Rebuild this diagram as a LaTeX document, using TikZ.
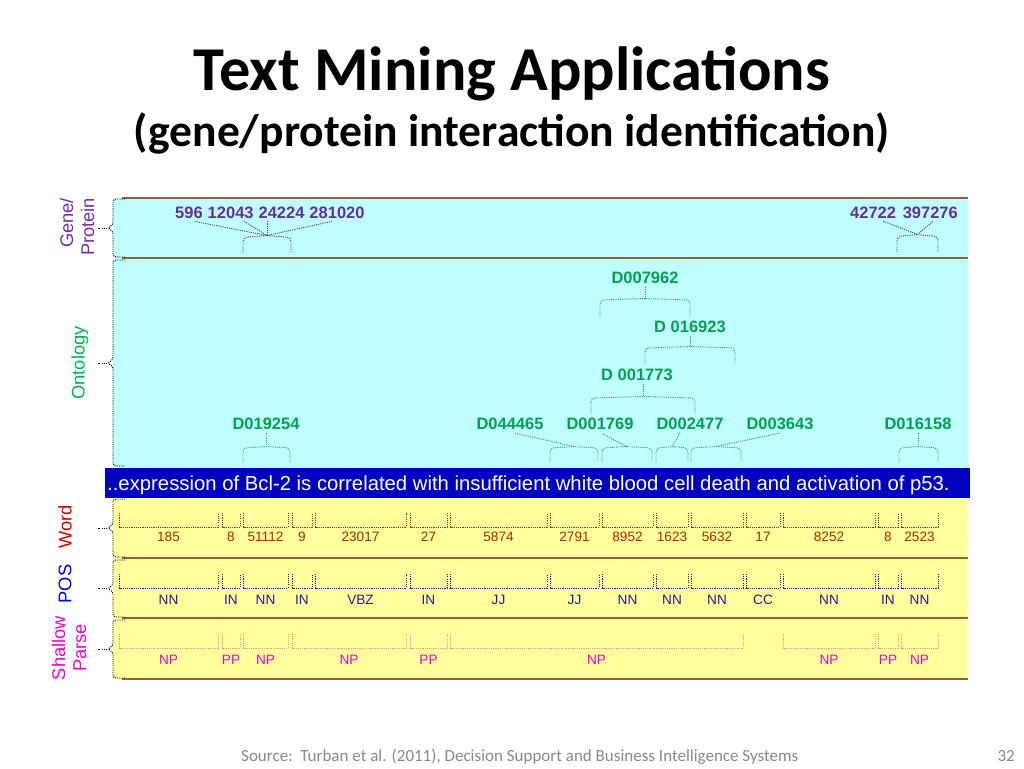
\documentclass[tikz,border=0pt]{standalone}
\usepackage{fontspec}
\setmainfont{Liberation Sans}
\newfontfamily\titlefont{Carlito}
\usetikzlibrary{calc}
\definecolor{cyanband}{RGB}{192,255,255}
\definecolor{yelband}{RGB}{255,255,155}
\definecolor{bandbrown}{RGB}{150,95,60}
\definecolor{barblue}{RGB}{0,0,190}
\definecolor{genecol}{RGB}{96,48,150}
\definecolor{genelab}{RGB}{112,48,160}
\definecolor{genedots}{RGB}{60,60,140}
\definecolor{ontcol}{RGB}{0,160,80}
\definecolor{ontlab}{RGB}{0,176,80}
\definecolor{ontdots}{RGB}{50,150,130}
\definecolor{wordlab}{RGB}{200,0,0}
\definecolor{wordcol}{RGB}{170,40,0}
\definecolor{poslab}{RGB}{0,0,220}
\definecolor{poscol}{RGB}{30,30,150}
\definecolor{shlab}{RGB}{235,0,200}
\definecolor{shdots}{RGB}{230,150,150}
\definecolor{footgray}{RGB}{137,137,137}
\newcommand{\leftbrace}[3]{%
  \coordinate (#3) at (107,{(#1+#2)/2});
  \draw[bandbrace] (125,#1) -- (113,#1) -- (113,{(#1+#2)/2-3}) -- (#3) -- (113,{(#1+#2)/2+3}) -- (113,#2) -- (125,#2);
  \draw[dots,draw=black] (#3) -- ++(-9,0);
}
\newcommand{\upbrace}[5]{%
  \coordinate (#1) at ({(#2+#3)/2},{#4-1.5});
  \draw[oline, rounded corners=4pt] (#2,#5) -- (#2,#4) -- (#1) -- (#3,#4) -- (#3,#5);
}
\begin{document}
\begin{tikzpicture}[x=1pt,y=-1pt,
  dots/.style={line width=0.9pt, dash pattern=on 1.1pt off 1.1pt},
  bandbrace/.style={dots, draw=black, rounded corners=3pt},
  bandline/.style={draw=bandbrown, line width=1.3pt},
  gene/.style={text=genecol, font=\bfseries\fontsize{16.5}{19}\selectfont, inner sep=0pt},
  onto/.style={text=ontcol, font=\bfseries\fontsize{16.5}{19}\selectfont, inner sep=0pt},
  gline/.style={dots, draw=genedots},
  oline/.style={dots, draw=ontdots},
  wseg/.style={dots, draw=wordcol},
  wlab/.style={text=wordcol, font=\fontsize{13.6}{16}\selectfont, inner sep=0pt},
  pseg/.style={dots, draw=poscol},
  plab/.style={text=poscol, font=\fontsize{13.6}{16}\selectfont, inner sep=0pt},
  sseg/.style={dots, draw=shdots},
  slab/.style={text=shlab, font=\fontsize{13.6}{16}\selectfont, inner sep=0pt},
  sidelab/.style={rotate=90, font=\fontsize{18.3}{21}\selectfont, inner sep=0pt}
]
\useasboundingbox (0,0) rectangle (1024,768);
\fill[white] (0,0) rectangle (1024,768);

% title
\node[anchor=base, font=\titlefont\bfseries\fontsize{62.4}{70}\selectfont, inner sep=0pt] (title) at (512,90) {Text Mining Applications};
\node[anchor=base, font=\titlefont\bfseries\fontsize{45.6}{52}\selectfont, inner sep=0pt] (subtitle) at (512,146) {(gene/protein interaction identification)};

% bands
\fill[cyanband] (968,198) [rounded corners=4pt] -- (113,198) -- (113,258) [sharp corners] -- (968,258) -- cycle;
\fill[cyanband] (968,258) [rounded corners=4pt] -- (113,258) -- (113,468) [sharp corners] -- (968,468) -- cycle;
\fill[yelband] (968,499) [rounded corners=4pt] -- (113,499) -- (113,558) [sharp corners] -- (968,558) -- cycle;
\fill[yelband] (968,559) [rounded corners=4pt] -- (113,559) -- (113,618) [sharp corners] -- (968,618) -- cycle;
\fill[yelband] (968,619) [rounded corners=4pt] -- (113,619) -- (113,679) [sharp corners] -- (968,679) -- cycle;
\draw[bandline] (122,198) -- (968,198);
\draw[bandline] (122,258) -- (968,258);
\draw[bandline] (122,558) -- (968,558);
\draw[bandline] (122,618) -- (968,618);
\draw[bandline] (122,679) -- (968,679);

% left braces
\leftbrace{199}{257}{tgene}
\leftbrace{260}{466}{tonto}
\leftbrace{499}{557}{tword}
\leftbrace{560}{617}{tpos}
\leftbrace{620}{678}{tshal}

% side labels
\node[sidelab, text=genelab, align=right] (lgene) at (77,227) {Gene/\\Protein};
\node[sidelab, text=ontlab] (lonto) at (80,363) {Ontology};
\node[sidelab, text=wordlab] (lword) at (65,527) {Word};
\node[sidelab, text=poslab] (lpos) at (65,584) {POS};
\node[sidelab, text=shlab, align=center] (lshal) at (69,648) {Shallow\\Parse};

% sentence bar
\node[fill=barblue, anchor=north west, minimum height=30pt, minimum width=865pt, inner sep=0pt] (bar) at (105,468) {};
\node[anchor=base west, inner sep=0pt, text=white, font=\fontsize{20.3}{22}\selectfont] (sentence) at ([xshift=2pt,yshift=-7.5pt]bar.west) {..expression of Bcl-2 is correlated with insufficient white blood cell death and activation of p53.};

% gene / protein
\node[gene, anchor=base west] (g1) at (175,218) {596};
\node[gene, anchor=base west] (g2) at ([xshift=4.6pt]g1.base east) {12043};
\node[gene, anchor=base west] (g3) at ([xshift=4.6pt]g2.base east) {24224};
\node[gene, anchor=base west] (g4) at ([xshift=4.6pt]g3.base east) {281020};
\node[gene, anchor=base west] (g5) at (850,218) {42722};
\node[gene, anchor=base east] (g6) at (958,218) {397276};
\coordinate (gb1) at (267,235.5);
\draw[gline, rounded corners=4pt] (243,252) -- (243,237.5) -- (gb1) -- (291,237.5) -- (291,252);
\coordinate (gb2) at (917.5,234.5);
\draw[gline, rounded corners=4pt] (897,252) -- (897,236.5) -- (gb2) -- (938,236.5) -- (938,252);
\draw[gline] ($(g1.south west)!0.7!(g1.south east)+(0,3)$) -- (gb1);
\draw[gline] ($(g2.south west)!0.79!(g2.south east)+(0,3)$) -- (gb1);
\draw[gline] ($(gb1 |- g3.south)+(0,3)$) -- (gb1);
\draw[gline] ($(g4.south west)!0.41!(g4.south east)+(0,3)$) -- (gb1);
\draw[gline] ($(g5.south west)!0.72!(g5.south east)+(0,3)$) -- (gb2);
\draw[gline] ($(g6.south west)!0.55!(g6.south east)+(0,3)$) -- (gb2);

% ontology
\node[onto] (o1) at (645,278) {D007962};
\node[onto] (o2) at (690,327) {D 016923};
\node[onto] (o3) at (637,375) {D 001773};
\node[onto] (o4) at (266,424) {D019254};
\node[onto] (o5) at (510,424) {D044465};
\node[onto] (o6) at (600,424) {D001769};
\node[onto] (o7) at (690,424) {D002477};
\node[onto] (o8) at (780,424) {D003643};
\node[onto] (o9) at (918,424) {D016158};
\upbrace{b1}{600}{690}{300}{317}
\upbrace{b2}{645}{735}{348}{363}
\upbrace{b3}{591}{695}{398}{413}
\upbrace{b4}{243}{290}{448}{462}
\upbrace{b5}{550}{598}{448}{462}
\upbrace{b6}{602}{652}{448}{462}
\upbrace{b7}{656}{688}{448}{462}
\upbrace{b8}{691}{741}{448}{462}
\upbrace{b9}{899}{938}{448}{462}
\draw[oline] ($(b1 |- o1.south)+(0,3)$) -- (b1);
\draw[oline] ($(b2 |- o2.south)+(0,3)$) -- (b2);
\draw[oline] ($(b3 |- o3.south)+(0,3)$) -- (b3);
\draw[oline] ($(b4 |- o4.south)+(0,3)$) -- (b4);
\draw[oline] ($(o5.south)+(5,3)$) -- (b5);
\draw[oline] ($(o6.south)+(3,4)$) -- (b6);
\draw[oline] ($(o7.south)+(-10,3)$) -- (b7);
\draw[oline] ($(o8.south)+(0,3)$) -- (b8);
\draw[oline] ($(b9 |- o9.south)+(0,3)$) -- (b9);

% word row
\foreach \a/\b/\t [count=\i] in {119/218/185, 222/240/8, 243/288/51112, 292/312/9, 315/406/23017, 410/447/27, 450/547/5874, 550/599/2791, 602/653/8952, 656/688/1623, 691/743/5632, 746/780/17, 783/875/8252, 878/898/8, 901/938/2523}{
  \draw[wseg] (\a,513) -- (\a,527) -- (\b,527) -- (\b,513);
  \node[wlab] (w\i) at ({(\a+\b)/2},537) {\t};
}
% POS row
\foreach \a/\b/\t [count=\i] in {119/218/NN, 222/240/IN, 243/288/NN, 292/312/IN, 315/406/VBZ, 410/447/IN, 450/547/JJ, 550/599/JJ, 602/653/NN, 656/688/NN, 691/743/NN, 746/780/CC, 783/875/NN, 878/898/IN, 901/938/NN}{
  \draw[pseg] (\a,574) -- (\a,588) -- (\b,588) -- (\b,574);
  \node[plab] (p\i) at ({(\a+\b)/2},600) {\t};
}
% shallow parse row
\foreach \a/\b/\t [count=\i] in {119/218/NP, 222/240/PP, 243/288/NP, 292/406/NP, 410/447/PP, 450/743/NP, 783/875/NP, 878/898/PP, 901/938/NP}{
  \draw[sseg] (\a,634) -- (\a,648) -- (\b,648) -- (\b,634);
  \node[slab] (s\i) at ({(\a+\b)/2},660) {\t};
}

% footer
\node[anchor=base west, text=footgray, font=\titlefont\fontsize{17}{20}\selectfont, inner sep=0pt] (source) at (241,761) {Source:\ \ Turban et al. (2011), Decision Support and Business Intelligence Systems};
\node[anchor=base east, text=footgray, font=\titlefont\fontsize{17}{20}\selectfont, inner sep=0pt] (pagenum) at (1015,761) {32};
\end{tikzpicture}
\end{document}
